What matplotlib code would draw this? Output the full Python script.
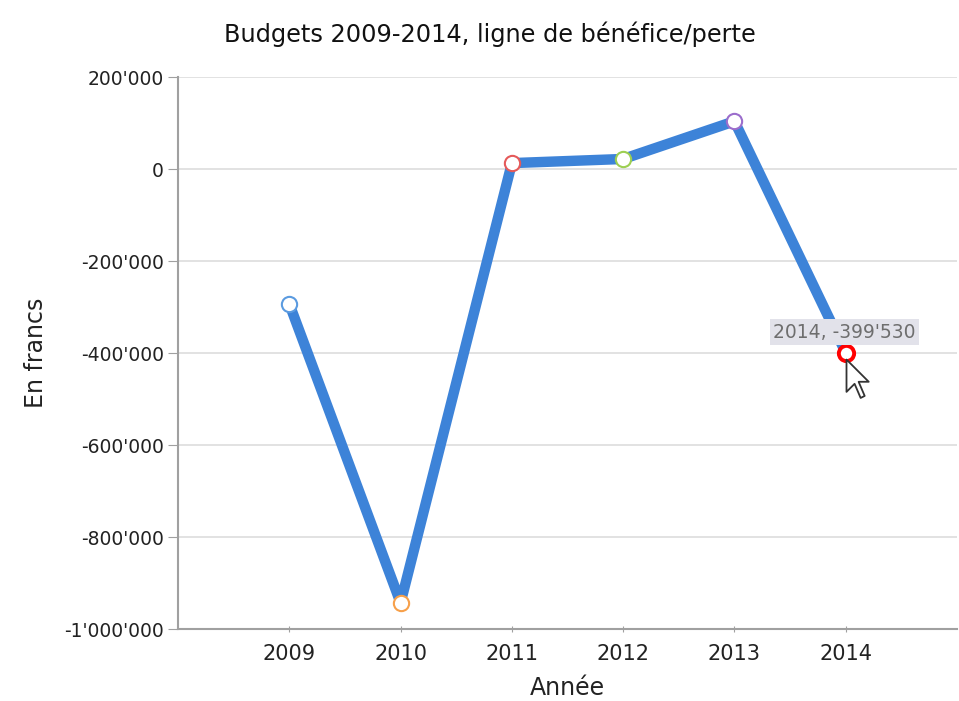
import matplotlib
matplotlib.use("Agg")
import matplotlib.pyplot as plt
from matplotlib.path import Path
from matplotlib.ticker import FuncFormatter, FixedLocator

# ==========================================
# DATA
# ==========================================
years = [2009, 2010, 2011, 2012, 2013, 2014]
result = [-293000, -943000, 13000, 22000, 104000, -399530]
marker_edges = ["#5b9be0", "#f7a04a", "#e55a5a", "#9dcf52", "#9b6dcc", "#ff0000"]
y_ticks = [200000, 0, -200000, -400000, -600000, -800000, -1000000]

TITLE = "Budgets 2009-2014, ligne de bénéfice/perte"
LINE_COLOR = "#3d83d8"
TEXT_COLOR = "#222222"


def swiss_fmt(v, pos=None):
    s = f"{abs(int(round(v))):,}".replace(",", "'")
    return ("-" if v < 0 else "") + s


fig = plt.figure(figsize=(9.59, 7.01), dpi=100)
ax = fig.add_axes([0.1856, 0.1027, 0.8124, 0.7873])

ax.plot(years, result, color=LINE_COLOR, linewidth=7.5, solid_joinstyle="round", zorder=3)

# markers, last one is the hovered point
for i, (x, y) in enumerate(zip(years, result)):
    lw = 2.8 if i == len(years) - 1 else 1.5
    ax.plot(x, y, marker="o", markersize=11, markerfacecolor="white",
            markeredgecolor=marker_edges[i], markeredgewidth=lw, zorder=4)

ax.set_xlim(2008, 2015)
ax.set_ylim(-1000000, 200000)
ax.xaxis.set_major_locator(FixedLocator(years))
ax.yaxis.set_major_locator(FixedLocator(y_ticks))
ax.yaxis.set_major_formatter(FuncFormatter(swiss_fmt))

ax.grid(axis="y", color="#dddddd", linewidth=1.2)
ax.set_axisbelow(True)

for side in ["top", "right"]:
    ax.spines[side].set_visible(False)
for side in ["left", "bottom"]:
    ax.spines[side].set_color("#a0a0a0")
    ax.spines[side].set_linewidth(1.5)

ax.tick_params(axis="y", length=7, color="#a0a0a0", labelsize=13.5, labelcolor=TEXT_COLOR, pad=3)
ax.tick_params(axis="x", length=5, direction="inout", color="#a0a0a0", labelsize=15,
               labelcolor=TEXT_COLOR, pad=8)

ax.set_xlabel("Année", fontsize=17, color=TEXT_COLOR, labelpad=9)
ax.set_ylabel("En francs", fontsize=17, color=TEXT_COLOR, labelpad=12)
fig.suptitle(TITLE, x=0.511, y=0.97, fontsize=17.3, color="#111111")

# tooltip for hovered point
last_x, last_y = years[-1], result[-1]
ax.annotate(f"{last_x}, {swiss_fmt(last_y)}", xy=(last_x, last_y),
            xytext=(-1, 15), textcoords="offset points", ha="center", va="center",
            fontsize=13.5, color="#6e6e6e", zorder=5,
            bbox=dict(boxstyle="square,pad=0.18", facecolor="#e2e2ea", edgecolor="none"))

# mouse cursor over the hovered point
cursor = Path([(0, -3), (0, -19), (4, -15), (7, -22), (9, -21), (6, -14), (11, -14), (0, -3)],
              [Path.MOVETO] + [Path.LINETO] * 6 + [Path.CLOSEPOLY])
ax.plot(last_x, last_y, marker=cursor, markersize=64, markerfacecolor="white",
        markeredgecolor="#333333", markeredgewidth=1.3, zorder=6)

fig.savefig("out.png", dpi=100)
